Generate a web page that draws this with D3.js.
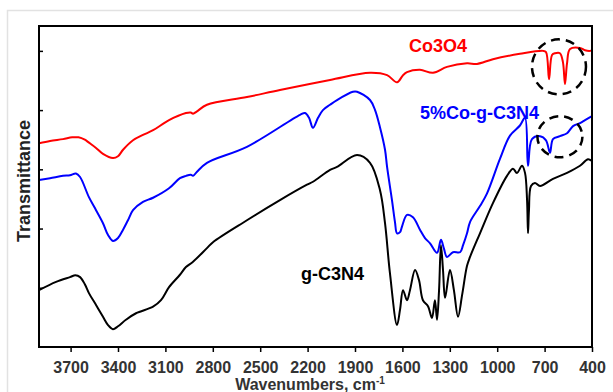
<!DOCTYPE html>
<html>
<head>
<meta charset="utf-8">
<script src="https://cdn.jsdelivr.net/npm/d3@7"></script>
<style>
  body { margin: 0; background: #fff; }
  svg { display: block; font-family: "Liberation Sans", Arial, sans-serif; }
  .tick text { font-size: 16px; font-weight: bold; fill: #333; }
</style>
</head>
<body>
<script>
// Co3O4 (red)
const co3o4Wn = [3900, 3830, 3748, 3690, 3650, 3610, 3584, 3539, 3495, 3432, 3400, 3368, 3305, 3242, 3178, 3077, 2970, 2940, 2925, 2900, 2837, 2584, 2375, 2058, 1805, 1697, 1634, 1596, 1571, 1489, 1406, 1318, 1191, 1128, 1027, 856, 710, 691, 672, 653, 634, 603, 584, 571, 558, 539, 476, 444, 412, 400];
const co3o4T = [34.4, 34.8, 35.1, 35.4, 35.4, 35.0, 34.5, 33.6, 32.6, 31.9, 32.2, 33.3, 34.9, 35.8, 36.6, 38.3, 39.5, 39.6, 39.4, 39.8, 40.9, 42.2, 43.4, 45.1, 46.3, 45.9, 44.7, 45.9, 46.4, 46.8, 46.3, 47.3, 47.9, 47.8, 48.6, 49.5, 50.0, 49.8, 45.2, 49.3, 49.6, 49.6, 48.1, 44.4, 47.9, 50.3, 50.5, 50.1, 50.0, 50.1];

// 5%Co-g-C3N4 (blue)
const coCnWn = [3900, 3830, 3748, 3704, 3666, 3640, 3584, 3539, 3495, 3463, 3432, 3400, 3368, 3337, 3305, 3242, 3178, 3077, 3008, 2970, 2940, 2925, 2900, 2837, 2584, 2248, 2216, 2191, 2166, 2134, 2103, 2058, 2014, 1913, 1887, 1805, 1773, 1742, 1710, 1697, 1666, 1647, 1634, 1615, 1603, 1571, 1533, 1489, 1457, 1425, 1381, 1356, 1337, 1318, 1280, 1235, 1216, 1191, 1172, 1109, 1065, 982, 919, 856, 824, 805, 780, 729, 691, 666, 647, 603, 558, 520, 476, 444, 400];
const coCnT = [28.2, 28.5, 28.9, 29.0, 29.3, 28.7, 25.3, 23.1, 20.9, 18.9, 17.9, 18.4, 19.8, 21.4, 23.1, 24.5, 25.2, 26.8, 28.5, 28.9, 29.1, 28.9, 29.6, 31.1, 33.8, 39.2, 39.5, 38.7, 37.0, 38.7, 40.0, 40.9, 41.7, 43.1, 43.1, 41.7, 40.0, 37.1, 33.3, 30.4, 24.8, 21.1, 19.2, 19.4, 20.3, 22.3, 21.9, 19.8, 18.4, 17.5, 15.9, 18.1, 16.6, 15.2, 16.0, 16.0, 17.2, 19.2, 21.1, 23.8, 25.9, 31.8, 35.7, 37.4, 38.7, 30.6, 35.1, 35.6, 34.9, 32.8, 35.1, 35.6, 36.1, 37.3, 37.8, 38.3, 39.0];

// g-C3N4 (black)
const gcnWn = [3900, 3792, 3704, 3670, 3640, 3610, 3584, 3539, 3495, 3463, 3432, 3400, 3350, 3286, 3178, 3128, 3077, 3008, 2970, 2925, 2837, 2799, 2584, 2375, 2204, 2166, 2058, 2014, 1887, 1805, 1742, 1710, 1679, 1634, 1615, 1596, 1571, 1552, 1520, 1495, 1470, 1438, 1413, 1394, 1381, 1368, 1356, 1343, 1330, 1299, 1274, 1248, 1222, 1191, 1172, 1109, 1027, 938, 900, 875, 843, 824, 811, 805, 799, 786, 761, 729, 647, 558, 476, 425, 400];
const gcnT = [9.6, 11.0, 11.8, 12.1, 11.8, 10.6, 9.1, 7.1, 5.1, 3.7, 3.0, 3.5, 4.6, 5.7, 6.8, 7.9, 10.1, 12.2, 13.5, 14.4, 16.7, 17.7, 21.4, 24.8, 27.4, 27.9, 29.9, 30.4, 32.4, 31.1, 26.5, 20.9, 12.5, 3.7, 6.3, 9.6, 7.9, 9.6, 13.0, 11.3, 7.9, 6.9, 4.9, 7.9, 4.6, 9.6, 17.2, 13.0, 8.3, 13.0, 9.6, 5.1, 8.8, 13.7, 15.2, 19.2, 24.3, 28.9, 30.1, 29.4, 30.6, 29.4, 24.8, 19.2, 23.1, 27.2, 27.7, 27.2, 28.4, 29.4, 30.6, 31.7, 31.4];

const seriesNames = ['Co3O4', '5%Co-g-C3N4', 'g-C3N4'];
const seriesColors = ['#ff0000', '#0000ff', '#000000'];
// label anchor (wavenumber, transmittance)
const labelWn = [1558, 1489, 2242];
const labelT = [49.8, 38.5, 11.3];

// dashed circles around the Co-O bands (wavenumber, transmittance)
const circleWn = [609, 603];
const circleT = [47.3, 35.5];

const xTicks = [3700, 3400, 3100, 2800, 2500, 2200, 1900, 1600, 1300, 1000, 700, 400];
const yTicks = [10, 20, 30, 40, 50];

const W = 613, H = 392;
const m = { left: 39, top: 26, right: 592, bottom: 347 };

const svg = d3.select('body').append('svg')
  .attr('width', W)
  .attr('height', H);

// faint outer frame
svg.append('rect')
  .attr('x', 7.5).attr('y', 10.5)
  .attr('width', 640).attr('height', 420)
  .attr('fill', 'none')
  .attr('stroke', '#e2e2e2')
  .attr('stroke-width', 1.5);

const x = d3.scaleLinear().domain([3900, 400]).range([m.left, m.right]);
const y = d3.scaleLinear().domain([0, 54.2]).range([m.bottom, m.top]);

svg.append('defs').append('clipPath').attr('id', 'plot')
  .append('rect')
  .attr('x', m.left).attr('y', m.top)
  .attr('width', m.right - m.left).attr('height', m.bottom - m.top);

// curves
const series = [
  { wn: co3o4Wn, t: co3o4T },
  { wn: coCnWn, t: coCnT },
  { wn: gcnWn, t: gcnT }
];

const line = d3.line()
  .x(d => x(d[0]))
  .y(d => y(d[1]))
  .curve(d3.curveCatmullRom.alpha(0.5));

const plot = svg.append('g').attr('clip-path', 'url(#plot)');

series.forEach((s, i) => {
  plot.append('path')
    .datum(s.wn.map((w, j) => [w, s.t[j]]))
    .attr('fill', 'none')
    .attr('stroke', seriesColors[i])
    .attr('stroke-width', 2)
    .attr('stroke-linejoin', 'round')
    .attr('d', line);
});

// dashed circles
const circleR = [[27, 27.5], [22.5, 20.5]];
circleWn.forEach((w, i) => {
  svg.append('ellipse')
    .attr('cx', x(w))
    .attr('cy', y(circleT[i]))
    .attr('rx', circleR[i][0])
    .attr('ry', circleR[i][1])
    .attr('fill', 'none')
    .attr('stroke', '#000')
    .attr('stroke-width', 2.5)
    .attr('stroke-dasharray', '9,6');
});

// series labels
seriesNames.forEach((name, i) => {
  svg.append('text')
    .attr('x', x(labelWn[i]))
    .attr('y', y(labelT[i]))
    .attr('fill', seriesColors[i])
    .attr('font-size', 18)
    .attr('font-weight', 'bold')
    .text(name);
});

// X axis
const xAxis = d3.axisBottom(x)
  .tickValues(xTicks)
  .tickSize(5)
  .tickPadding(10)
  .tickFormat(d3.format('d'));

svg.append('g')
  .attr('transform', `translate(0, ${m.bottom})`)
  .call(xAxis)
  .call(g => g.select('.domain').remove())
  .call(g => g.selectAll('.tick line').attr('stroke', '#000').attr('stroke-width', 1.5));

// Y axis (inward ticks, no labels)
svg.append('g')
  .attr('transform', `translate(${m.left}, 0)`)
  .call(d3.axisLeft(y).tickValues(yTicks).tickSize(-4).tickFormat(''))
  .call(g => g.select('.domain').remove())
  .call(g => g.selectAll('.tick line').attr('stroke', '#000').attr('stroke-width', 1.5));

// plot frame
svg.append('rect')
  .attr('x', m.left).attr('y', m.top)
  .attr('width', m.right - m.left).attr('height', m.bottom - m.top)
  .attr('fill', 'none')
  .attr('stroke', '#000')
  .attr('stroke-width', 2);

// axis titles
const xLabel = svg.append('text')
  .attr('x', 310)
  .attr('y', 390)
  .attr('text-anchor', 'middle')
  .attr('font-size', 16)
  .attr('font-weight', 'bold')
  .attr('fill', '#333');
xLabel.append('tspan').text('Wavenumbers, cm');
xLabel.append('tspan').attr('font-size', 10).attr('dy', -6).text('-1');

svg.append('text')
  .attr('transform', 'translate(30, 181) rotate(-90)')
  .attr('text-anchor', 'middle')
  .attr('font-size', 18)
  .attr('font-weight', 'bold')
  .attr('fill', '#222')
  .text('Transmittance');
</script>
</body>
</html>
